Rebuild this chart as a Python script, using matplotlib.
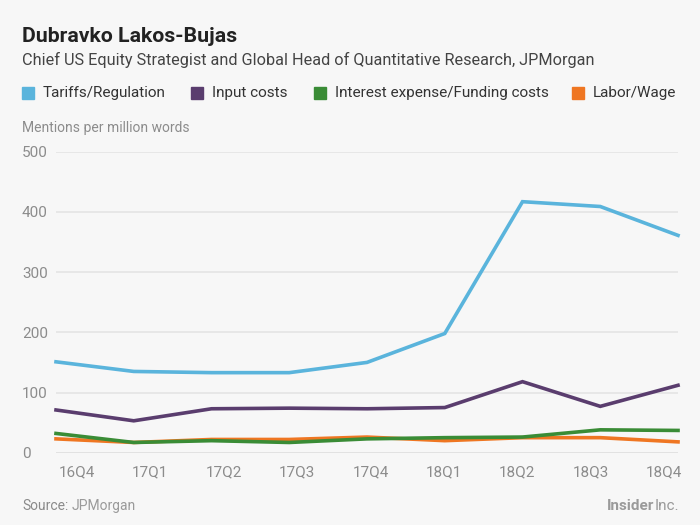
import matplotlib.pyplot as plt
import numpy as np

quarters = ["16Q4", "17Q1", "17Q2", "17Q3", "17Q4", "18Q1", "18Q2", "18Q3", "18Q4"]
tariffs = [151, 135, 133, 133, 150, 198, 417, 409, 361]
input_costs = [71, 53, 73, 74, 73, 75, 118, 77, 112]
interest = [32, 17, 20, 17, 23, 25, 26, 38, 37]
labor = [23, 17, 22, 22, 26, 20, 25, 25, 18]

series_names = ["Tariffs/Regulation", "Input costs", "Interest expense/Funding costs", "Labor/Wage"]
colors = ["#5ab4dc", "#5a3d6e", "#3a8c36", "#ef7622"]

bg = "#f7f7f7"
plt.rcParams['font.family'] = ['Roboto', 'DejaVu Sans']

fig = plt.figure(figsize=(7, 5.25), dpi=100, facecolor=bg)
ax = fig.add_axes([0.08, 0.1377, 0.8886, 0.5733])
ax.set_facecolor(bg)

x = np.arange(len(quarters))
# draw back to front so tariffs ends up on top
for vals, c in zip([labor, interest, input_costs, tariffs], colors[::-1]):
    ax.plot(x, vals, color=c, lw=2.6, clip_on=False, solid_joinstyle='miter')

ax.set_xlim(0, len(quarters) - 1)
ax.set_ylim(0, 500)
ax.set_yticks([0, 100, 200, 300, 400, 500])
ax.grid(axis='y', color='#e4e4e4', lw=1.2)
ax.set_axisbelow(True)
for s in ax.spines.values():
    s.set_visible(False)
ax.axhline(0, color='#d6d6d6', lw=1.2, zorder=0.5)
ax.tick_params(axis='y', length=0, pad=24.5, labelsize=11, labelcolor='#8c8c8c')
for t in ax.get_yticklabels():
    t.set_horizontalalignment('left')

# labels in the original are spread a bit narrower than the points
ax.set_xticks(np.linspace(0.27, 7.82, len(quarters)))
ax.set_xticklabels(quarters)
ax.tick_params(axis='x', length=0, pad=9, labelsize=11, labelcolor='#8c8c8c')

fig.text(22 / 700, 1 - 37 / 525, "Dubravko Lakos-Bujas", fontsize=15.3, fontweight='bold',
         color='#222222', va='center')
fig.text(22 / 700, 1 - 60 / 525,
         "Chief US Equity Strategist and Global Head of Quantitative Research, JPMorgan",
         fontsize=11.7, color='#444444', va='center')

# legend row
leg_x = [22, 191, 314, 572]
for lx, name, c in zip(leg_x, series_names, colors):
    fig.patches.append(plt.Rectangle((lx / 700, 1 - 99 / 525), 12 / 700, 12 / 525,
                                     transform=fig.transFigure, color=c))
    fig.text((lx + 21) / 700, 1 - 93 / 525, name, fontsize=11, color='#333333', va='center')

fig.text(22 / 700, 1 - 128 / 525, "Mentions per million words", fontsize=10,
         color='#8c8c8c', va='center')

fig.text(22 / 700, 1 - 506 / 525, "Source:", fontsize=10, color='#8a8a8a', va='center')
fig.text(72 / 700, 1 - 506 / 525, "JPMorgan", fontsize=10, color='#9a9a9a', va='center')
fig.text(654 / 700, 1 - 506 / 525, "Insider", fontsize=11, fontweight='bold',
         color='#9a9a9a', va='center', ha='right')
fig.text(679 / 700, 1 - 506 / 525, "Inc.", fontsize=11, color='#9a9a9a', va='center', ha='right')

fig.savefig("out.png", dpi=100, facecolor=bg)
